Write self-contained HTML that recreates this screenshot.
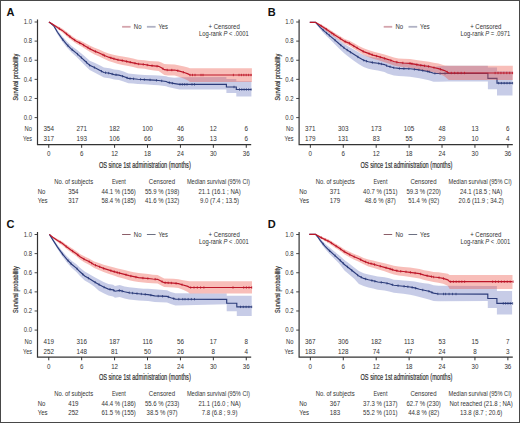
<!DOCTYPE html>
<html><head><meta charset="utf-8"><style>
html,body{margin:0;padding:0;background:#fff;}
svg{display:block;font-family:"Liberation Sans", sans-serif;}
</style></head><body>
<svg width="520" height="423" viewBox="0 0 520 423">
<rect x="0" y="0" width="520" height="423" fill="#fff"/>
<g transform="translate(0 0)"><text x="6.60" y="15.70" font-size="11" text-anchor="start" font-weight="bold" fill="#111">A</text>
<polygon points="48.90,22.10 51.00,22.70 53.70,24.30 57.50,30.30 62.20,36.30 66.90,41.60 71.60,46.00 76.40,49.40 81.10,53.30 85.00,56.60 89.70,60.70 94.50,62.80 99.20,65.10 103.90,67.50 109.50,68.20 114.20,69.60 118.90,70.10 123.60,71.60 128.40,73.60 133.10,74.10 137.80,74.50 144.50,74.90 153.90,75.30 158.60,75.60 166.20,76.30 168.10,77.00 174.70,77.80 179.50,77.20 226.40,77.10 226.40,78.90 236.30,78.90 236.30,81.30 251.40,81.30 251.40,96.40 236.30,96.40 236.30,93.10 226.40,93.10 226.40,89.40 179.50,89.40 174.70,88.50 168.10,87.10 166.20,86.30 158.60,85.30 153.90,84.90 144.50,84.30 137.80,83.90 133.10,83.50 128.40,83.20 123.60,81.40 118.90,80.10 114.20,79.60 109.50,78.20 103.90,77.50 99.20,74.90 94.50,72.40 89.70,69.90 85.00,65.40 81.10,61.50 76.40,56.80 71.60,52.60 66.90,47.60 62.20,41.50 57.50,34.30 53.70,27.10 51.00,24.30 48.90,22.10" fill="rgba(92,106,184,0.34)"/>
<polyline points="48.90,22.10 51.00,23.50 53.70,25.70 57.50,32.30 62.20,38.90 66.90,44.60 71.60,49.30 76.40,53.10 81.10,57.40 85.00,61.00 89.70,65.30 94.50,67.60 99.20,70.00 103.90,72.50 109.50,73.20 114.20,74.60 118.90,75.10 123.60,76.50 128.40,78.40 133.10,78.80 137.80,79.20 144.50,79.60 153.90,80.10 158.60,80.50 166.20,81.50 168.10,82.40 174.70,83.60 179.50,84.40 226.40,84.40 226.40,87.00 236.30,87.00 236.30,89.50 251.40,89.50" fill="none" stroke="#2b3b7a" stroke-width="1.15"/>
<path d="M62.73 38.34v2.4M67.83 44.33v2.4M72.12 48.51v2.4M77.53 52.94v2.4M81.38 56.46v2.4M86.50 61.17v2.4M89.60 64.01v2.4M94.36 66.33v2.4M101.45 70.00v2.4M105.55 71.51v2.4M108.68 71.90v2.4M112.18 72.80v2.4M116.03 73.59v2.4M122.58 75.00v2.4M127.08 76.68v2.4M130.02 77.34v2.4M133.57 77.64v2.4M140.58 78.17v2.4M144.37 78.39v2.4M150.04 78.69v2.4M156.46 79.12v2.4M161.70 79.71v2.4M169.35 81.43v2.4M172.37 81.98v2.4M180.00 83.20v2.4M182.33 83.20v2.4M184.67 83.20v2.4M187.00 83.20v2.4M192.00 83.20v2.4M194.50 83.20v2.4M234.00 85.80v2.4M239.50 88.30v2.4M241.80 88.30v2.4M244.10 88.30v2.4M246.40 88.30v2.4M248.70 88.30v2.4M251.00 88.30v2.4" stroke="#2b3b7a" stroke-width="0.8"/>
<polygon points="48.90,22.10 51.50,23.00 54.50,24.60 57.50,26.10 62.20,28.50 66.90,32.00 71.60,35.70 76.40,38.90 81.10,40.90 85.00,43.00 89.70,45.60 94.50,47.80 99.20,49.60 103.90,51.80 108.60,53.50 113.40,54.70 118.10,55.70 122.80,56.50 128.40,57.60 133.10,58.60 137.80,59.65 144.50,60.25 149.20,61.00 153.90,61.30 158.60,61.50 161.50,62.60 164.30,64.10 168.10,64.30 174.70,64.60 179.50,65.50 184.20,66.60 188.00,67.50 189.90,68.20 251.90,68.20 251.90,82.00 189.90,82.00 188.00,80.50 184.20,78.70 179.50,76.90 174.70,75.60 168.10,75.50 164.30,75.10 161.50,73.00 158.60,71.10 153.90,70.50 149.20,69.80 144.50,68.75 137.80,68.15 133.10,67.00 128.40,66.00 122.80,64.90 118.10,63.90 113.40,62.50 108.60,60.90 103.90,58.80 99.20,56.40 94.50,54.40 89.70,51.80 85.00,48.80 81.10,46.30 76.40,43.70 71.60,40.30 66.90,36.40 62.20,32.30 57.50,29.10 54.50,26.60 51.50,24.20 48.90,22.10" fill="rgba(236,84,70,0.38)"/>
<polyline points="48.90,22.10 51.50,23.60 54.50,25.60 57.50,27.60 62.20,30.40 66.90,34.20 71.60,38.00 76.40,41.30 81.10,43.60 85.00,45.90 89.70,48.70 94.50,51.10 99.20,53.00 103.90,55.30 108.60,57.20 113.40,58.60 118.10,59.80 122.80,60.70 128.40,61.80 133.10,62.80 137.80,63.90 144.50,64.50 149.20,65.40 153.90,65.90 158.60,66.30 161.50,67.80 164.30,69.70 168.10,70.10 174.70,70.00 179.50,71.10 184.20,72.50 188.00,73.90 189.90,75.00 251.90,75.00" fill="none" stroke="#bd1628" stroke-width="1.2"/>
<path d="M59.41 27.54v2.4M66.55 32.72v2.4M69.86 35.39v2.4M74.63 38.88v2.4M79.63 41.68v2.4M83.63 43.89v2.4M87.97 46.47v2.4M90.17 47.73v2.4M95.44 50.28v2.4M103.05 53.68v2.4M104.47 54.33v2.4M110.83 56.65v2.4M113.91 57.53v2.4M118.02 58.58v2.4M122.28 59.40v2.4M126.66 60.26v2.4M130.27 61.00v2.4M134.94 62.03v2.4M138.61 62.77v2.4M143.25 63.19v2.4M147.26 63.83v2.4M152.05 64.50v2.4M157.06 64.97v2.4M162.98 67.61v2.4M167.22 68.81v2.4M171.79 68.84v2.4M177.80 69.51v2.4M183.32 71.04v2.4M190.00 73.80v2.4M192.50 73.80v2.4M195.00 73.80v2.4M201.00 73.80v2.4M203.00 73.80v2.4M233.40 73.80v2.4M239.00 73.80v2.4M241.40 73.80v2.4M243.80 73.80v2.4M246.20 73.80v2.4M248.60 73.80v2.4M251.00 73.80v2.4" stroke="#bd1628" stroke-width="0.8"/>
<path d="M37.5 19.5V144.7H251.2" fill="none" stroke="#333" stroke-width="1.2"/>
<path d="M34.6 22.00H37.5" stroke="#333" stroke-width="0.9"/>
<text x="27.85" y="24.20" font-size="6.63" text-anchor="middle" font-weight="normal" fill="#333" textLength="8.30" lengthAdjust="spacingAndGlyphs">1.0</text>
<path d="M34.6 41.12H37.5" stroke="#333" stroke-width="0.9"/>
<text x="27.85" y="43.32" font-size="6.63" text-anchor="middle" font-weight="normal" fill="#333" textLength="8.30" lengthAdjust="spacingAndGlyphs">0.8</text>
<path d="M34.6 60.24H37.5" stroke="#333" stroke-width="0.9"/>
<text x="27.85" y="62.44" font-size="6.63" text-anchor="middle" font-weight="normal" fill="#333" textLength="8.30" lengthAdjust="spacingAndGlyphs">0.6</text>
<path d="M34.6 79.36H37.5" stroke="#333" stroke-width="0.9"/>
<text x="27.85" y="81.56" font-size="6.63" text-anchor="middle" font-weight="normal" fill="#333" textLength="8.30" lengthAdjust="spacingAndGlyphs">0.4</text>
<path d="M34.6 98.48H37.5" stroke="#333" stroke-width="0.9"/>
<text x="27.85" y="100.68" font-size="6.63" text-anchor="middle" font-weight="normal" fill="#333" textLength="8.30" lengthAdjust="spacingAndGlyphs">0.2</text>
<path d="M34.6 117.60H37.5" stroke="#333" stroke-width="0.9"/>
<text x="27.85" y="119.80" font-size="6.63" text-anchor="middle" font-weight="normal" fill="#333" textLength="8.30" lengthAdjust="spacingAndGlyphs">0.0</text>
<path d="M48.75 144.5V147.8" stroke="#333" stroke-width="1"/>
<text x="48.75" y="156.40" font-size="6.63" text-anchor="middle" font-weight="normal" fill="#333" textLength="3.45" lengthAdjust="spacingAndGlyphs">0</text>
<path d="M81.67 144.5V147.8" stroke="#333" stroke-width="1"/>
<text x="81.67" y="156.40" font-size="6.63" text-anchor="middle" font-weight="normal" fill="#333" textLength="3.45" lengthAdjust="spacingAndGlyphs">6</text>
<path d="M114.59 144.5V147.8" stroke="#333" stroke-width="1"/>
<text x="114.59" y="156.40" font-size="6.63" text-anchor="middle" font-weight="normal" fill="#333" textLength="6.90" lengthAdjust="spacingAndGlyphs">12</text>
<path d="M147.51 144.5V147.8" stroke="#333" stroke-width="1"/>
<text x="147.51" y="156.40" font-size="6.63" text-anchor="middle" font-weight="normal" fill="#333" textLength="6.90" lengthAdjust="spacingAndGlyphs">18</text>
<path d="M180.43 144.5V147.8" stroke="#333" stroke-width="1"/>
<text x="180.43" y="156.40" font-size="6.63" text-anchor="middle" font-weight="normal" fill="#333" textLength="6.90" lengthAdjust="spacingAndGlyphs">24</text>
<path d="M213.35 144.5V147.8" stroke="#333" stroke-width="1"/>
<text x="213.35" y="156.40" font-size="6.63" text-anchor="middle" font-weight="normal" fill="#333" textLength="6.90" lengthAdjust="spacingAndGlyphs">30</text>
<path d="M246.27 144.5V147.8" stroke="#333" stroke-width="1"/>
<text x="246.27" y="156.40" font-size="6.63" text-anchor="middle" font-weight="normal" fill="#333" textLength="6.90" lengthAdjust="spacingAndGlyphs">36</text>
<text x="28.20" y="131.40" font-size="6.63" text-anchor="middle" font-weight="normal" fill="#333" textLength="7.40" lengthAdjust="spacingAndGlyphs">No</text>
<text x="27.45" y="141.00" font-size="6.63" text-anchor="middle" font-weight="normal" fill="#333" textLength="8.90" lengthAdjust="spacingAndGlyphs">Yes</text>
<text x="48.75" y="131.40" font-size="6.74" text-anchor="middle" font-weight="normal" fill="#333" textLength="10.51" lengthAdjust="spacingAndGlyphs">354</text>
<text x="81.67" y="131.40" font-size="6.74" text-anchor="middle" font-weight="normal" fill="#333" textLength="10.51" lengthAdjust="spacingAndGlyphs">271</text>
<text x="114.59" y="131.40" font-size="6.74" text-anchor="middle" font-weight="normal" fill="#333" textLength="10.51" lengthAdjust="spacingAndGlyphs">182</text>
<text x="147.51" y="131.40" font-size="6.74" text-anchor="middle" font-weight="normal" fill="#333" textLength="10.51" lengthAdjust="spacingAndGlyphs">100</text>
<text x="180.43" y="131.40" font-size="6.74" text-anchor="middle" font-weight="normal" fill="#333" textLength="7.01" lengthAdjust="spacingAndGlyphs">46</text>
<text x="213.35" y="131.40" font-size="6.74" text-anchor="middle" font-weight="normal" fill="#333" textLength="7.01" lengthAdjust="spacingAndGlyphs">12</text>
<text x="246.27" y="131.40" font-size="6.74" text-anchor="middle" font-weight="normal" fill="#333" textLength="3.50" lengthAdjust="spacingAndGlyphs">6</text>
<text x="48.75" y="141.00" font-size="6.74" text-anchor="middle" font-weight="normal" fill="#333" textLength="10.51" lengthAdjust="spacingAndGlyphs">317</text>
<text x="81.67" y="141.00" font-size="6.74" text-anchor="middle" font-weight="normal" fill="#333" textLength="10.51" lengthAdjust="spacingAndGlyphs">193</text>
<text x="114.59" y="141.00" font-size="6.74" text-anchor="middle" font-weight="normal" fill="#333" textLength="10.51" lengthAdjust="spacingAndGlyphs">106</text>
<text x="147.51" y="141.00" font-size="6.74" text-anchor="middle" font-weight="normal" fill="#333" textLength="7.01" lengthAdjust="spacingAndGlyphs">66</text>
<text x="180.43" y="141.00" font-size="6.74" text-anchor="middle" font-weight="normal" fill="#333" textLength="7.01" lengthAdjust="spacingAndGlyphs">36</text>
<text x="213.35" y="141.00" font-size="6.74" text-anchor="middle" font-weight="normal" fill="#333" textLength="7.01" lengthAdjust="spacingAndGlyphs">13</text>
<text x="246.27" y="141.00" font-size="6.74" text-anchor="middle" font-weight="normal" fill="#333" textLength="3.50" lengthAdjust="spacingAndGlyphs">6</text>
<text x="144.85" y="167.50" font-size="8.8" text-anchor="middle" font-weight="normal" fill="#333" textLength="91.90" lengthAdjust="spacingAndGlyphs" stroke="#333" stroke-width="0.22">OS since 1st administration (months)</text>
<g transform="translate(18.3 77.1) rotate(-90)"><text x="0.00" y="0.00" font-size="7.8" text-anchor="middle" font-weight="normal" fill="#333" textLength="46.60" lengthAdjust="spacingAndGlyphs" stroke="#333" stroke-width="0.2">Survival probability</text></g>
<g transform="translate(0 0)">
<path d="M122.1 26.8H130.6" stroke="#d4a4ac" stroke-width="1.8"/>
<text x="137.65" y="29.00" font-size="6.74" text-anchor="middle" font-weight="normal" fill="#333" textLength="7.70" lengthAdjust="spacingAndGlyphs">No</text>
<path d="M146.9 26.8H155.6" stroke="#b0b2c4" stroke-width="1.8"/>
<text x="163.25" y="29.00" font-size="6.74" text-anchor="middle" font-weight="normal" fill="#333" textLength="9.50" lengthAdjust="spacingAndGlyphs">Yes</text>
<text x="224.20" y="29.30" font-size="6.74" text-anchor="middle" font-weight="normal" fill="#333" textLength="31.20" lengthAdjust="spacingAndGlyphs">+ Censored</text>
<text x="223.85" y="36.40" font-size="6.74" text-anchor="middle" font-weight="normal" fill="#333" textLength="49.70" lengthAdjust="spacingAndGlyphs">Log-rank <tspan font-style="italic">P</tspan> &lt; .0001</text>
</g>
<text x="73.65" y="183.80" font-size="6.42" text-anchor="middle" font-weight="normal" fill="#333" textLength="38.90" lengthAdjust="spacingAndGlyphs">No. of subjects</text>
<text x="118.85" y="183.80" font-size="6.42" text-anchor="middle" font-weight="normal" fill="#333" textLength="13.90" lengthAdjust="spacingAndGlyphs">Event</text>
<text x="161.90" y="183.80" font-size="6.42" text-anchor="middle" font-weight="normal" fill="#333" textLength="26.20" lengthAdjust="spacingAndGlyphs">Censored</text>
<text x="218.45" y="183.80" font-size="6.42" text-anchor="middle" font-weight="normal" fill="#333" textLength="63.10" lengthAdjust="spacingAndGlyphs">Median survival (95% CI)</text>
<text x="37.70" y="193.50" font-size="6.42" text-anchor="start" font-weight="normal" fill="#333" textLength="7.67" lengthAdjust="spacingAndGlyphs">No</text>
<text x="37.70" y="202.80" font-size="6.42" text-anchor="start" font-weight="normal" fill="#333" textLength="9.79" lengthAdjust="spacingAndGlyphs">Yes</text>
<text x="73.40" y="193.50" font-size="6.63" text-anchor="middle" font-weight="normal" fill="#333" textLength="10.34" lengthAdjust="spacingAndGlyphs">354</text>
<text x="118.70" y="193.50" font-size="6.42" text-anchor="middle" font-weight="normal" fill="#333" textLength="34.35" lengthAdjust="spacingAndGlyphs">44.1 % (156)</text>
<text x="162.10" y="193.50" font-size="6.42" text-anchor="middle" font-weight="normal" fill="#333" textLength="34.35" lengthAdjust="spacingAndGlyphs">55.9 % (198)</text>
<text x="219.60" y="193.50" font-size="6.42" text-anchor="middle" font-weight="normal" fill="#333" textLength="42.35" lengthAdjust="spacingAndGlyphs">21.1 (16.1 ; NA)</text>
<text x="73.40" y="202.80" font-size="6.63" text-anchor="middle" font-weight="normal" fill="#333" textLength="10.34" lengthAdjust="spacingAndGlyphs">317</text>
<text x="118.70" y="202.80" font-size="6.42" text-anchor="middle" font-weight="normal" fill="#333" textLength="34.35" lengthAdjust="spacingAndGlyphs">58.4 % (185)</text>
<text x="162.10" y="202.80" font-size="6.42" text-anchor="middle" font-weight="normal" fill="#333" textLength="34.35" lengthAdjust="spacingAndGlyphs">41.6 % (132)</text>
<text x="219.60" y="202.80" font-size="6.42" text-anchor="middle" font-weight="normal" fill="#333" textLength="39.02" lengthAdjust="spacingAndGlyphs">9.0 (7.4 ; 13.5)</text></g>
<g transform="translate(261.6 0)"><text x="6.10" y="15.70" font-size="11" text-anchor="start" font-weight="bold" fill="#111">B</text>
<polygon points="48.20,22.30 53.90,21.90 58.60,25.50 63.30,29.10 68.00,32.60 72.80,36.20 77.50,40.00 83.10,44.20 87.90,47.10 92.60,49.80 97.30,52.60 102.00,55.00 106.80,56.50 111.50,57.20 116.20,57.70 122.90,59.00 125.70,60.30 132.30,62.00 137.00,62.50 141.80,62.60 148.40,62.70 157.90,63.70 167.30,65.30 172.00,66.90 176.80,66.30 186.20,65.70 226.30,65.70 226.30,67.50 235.40,67.50 235.40,71.20 250.90,71.20 250.90,95.40 235.40,95.40 235.40,89.20 226.30,89.20 226.30,81.40 186.20,81.40 176.80,81.70 172.00,81.80 167.30,80.20 157.90,78.20 148.40,76.70 141.80,76.20 137.00,76.00 132.30,75.40 125.70,73.50 122.90,72.00 116.20,70.40 111.50,69.70 106.80,68.80 102.00,67.00 97.30,64.20 92.60,61.00 87.90,57.60 83.10,53.80 77.50,48.60 72.80,43.80 68.00,39.10 63.30,34.40 58.60,29.30 53.90,22.70 48.20,22.30" fill="rgba(92,106,184,0.34)"/>
<polyline points="48.20,22.30 53.90,22.30 58.60,27.30 63.30,31.60 68.00,35.60 72.80,39.60 77.50,43.80 83.10,48.40 87.90,51.60 92.60,54.60 97.30,57.60 102.00,60.20 106.80,61.80 111.50,62.60 116.20,63.20 122.90,64.60 125.70,66.00 132.30,67.80 137.00,68.40 141.80,68.60 148.40,68.80 157.90,69.90 167.30,71.60 172.00,73.20 176.80,73.50 186.20,73.40 226.30,73.40 226.30,78.30 235.40,78.30 235.40,83.10 250.90,83.10" fill="none" stroke="#2b3b7a" stroke-width="1.15"/>
<path d="M61.58 28.82v2.4M64.95 31.81v2.4M67.75 34.19v2.4M73.44 38.97v2.4M79.14 43.95v2.4M82.37 46.60v2.4M85.61 48.87v2.4M88.81 50.98v2.4M96.25 55.73v2.4M102.17 59.06v2.4M104.87 59.96v2.4M110.78 61.28v2.4M117.18 62.20v2.4M119.79 62.75v2.4M125.05 64.48v2.4M128.42 65.54v2.4M132.22 66.58v2.4M137.81 67.23v2.4M142.30 67.42v2.4M147.27 67.57v2.4M152.81 68.11v2.4M157.33 68.63v2.4M161.08 69.27v2.4M166.06 70.17v2.4M167.70 70.54v2.4M173.32 72.08v2.4M178.49 72.28v2.4M183.42 72.23v2.4M237.00 81.90v2.4M239.80 81.90v2.4M242.60 81.90v2.4M245.40 81.90v2.4M248.20 81.90v2.4M251.00 81.90v2.4" stroke="#2b3b7a" stroke-width="0.8"/>
<polygon points="48.20,22.30 53.90,22.00 58.60,24.00 63.30,26.60 68.00,29.40 72.80,32.70 77.50,35.50 83.10,38.90 87.90,40.70 92.60,43.30 97.30,45.90 102.00,48.30 106.80,49.90 111.50,51.50 116.20,52.70 122.90,54.60 127.60,55.90 132.30,57.50 137.00,58.40 141.80,58.80 148.40,59.10 157.90,60.60 167.30,61.80 172.00,62.70 176.80,63.60 181.50,64.90 183.40,65.40 187.20,65.70 251.20,65.70 251.20,80.00 187.20,80.00 183.40,76.80 181.50,75.50 176.80,73.60 172.00,72.30 167.30,71.20 157.90,69.60 148.40,67.70 141.80,67.20 137.00,66.60 132.30,65.50 127.60,63.70 122.90,62.20 116.20,60.10 111.50,58.70 106.80,56.90 102.00,54.90 97.30,52.10 92.60,49.10 87.90,46.10 83.10,43.90 77.50,40.10 72.80,36.90 68.00,33.40 63.30,30.00 58.60,26.60 53.90,22.60 48.20,22.30" fill="rgba(236,84,70,0.38)"/>
<polyline points="48.20,22.30 53.90,22.30 58.60,25.30 63.30,28.30 68.00,31.40 72.80,34.80 77.50,37.80 83.10,41.40 87.90,43.40 92.60,46.20 97.30,49.00 102.00,51.60 106.80,53.40 111.50,55.10 116.20,56.40 122.90,58.40 127.60,59.80 132.30,61.50 137.00,62.50 141.80,63.00 148.40,63.40 157.90,65.10 167.30,66.50 172.00,67.50 176.80,68.60 181.50,70.10 183.40,70.80 187.20,73.00 251.20,73.00" fill="none" stroke="#bd1628" stroke-width="1.2"/>
<path d="M59.58 24.73v2.4M64.70 28.02v2.4M70.25 31.79v2.4M72.24 33.20v2.4M78.72 37.39v2.4M83.55 40.39v2.4M87.90 42.20v2.4M92.21 44.77v2.4M95.52 46.74v2.4M101.55 50.15v2.4M107.49 52.45v2.4M110.59 53.57v2.4M114.95 54.86v2.4M118.68 55.94v2.4M123.06 57.25v2.4M129.31 59.22v2.4M135.23 60.92v2.4M141.26 61.74v2.4M148.44 62.21v2.4M150.35 62.55v2.4M155.25 63.43v2.4M159.18 64.09v2.4M162.90 64.65v2.4M166.92 65.24v2.4M172.36 66.38v2.4M178.88 68.06v2.4M185.62 70.88v2.4M189.70 71.80v2.4M193.00 71.80v2.4M196.30 71.80v2.4M199.60 71.80v2.4M202.90 71.80v2.4M233.50 71.80v2.4M236.42 71.80v2.4M239.33 71.80v2.4M242.25 71.80v2.4M245.17 71.80v2.4M248.08 71.80v2.4M251.00 71.80v2.4" stroke="#bd1628" stroke-width="0.8"/>
<path d="M37.5 19.5V144.7H251.2" fill="none" stroke="#333" stroke-width="1.2"/>
<path d="M34.6 22.00H37.5" stroke="#333" stroke-width="0.9"/>
<text x="27.85" y="24.20" font-size="6.63" text-anchor="middle" font-weight="normal" fill="#333" textLength="8.30" lengthAdjust="spacingAndGlyphs">1.0</text>
<path d="M34.6 41.12H37.5" stroke="#333" stroke-width="0.9"/>
<text x="27.85" y="43.32" font-size="6.63" text-anchor="middle" font-weight="normal" fill="#333" textLength="8.30" lengthAdjust="spacingAndGlyphs">0.8</text>
<path d="M34.6 60.24H37.5" stroke="#333" stroke-width="0.9"/>
<text x="27.85" y="62.44" font-size="6.63" text-anchor="middle" font-weight="normal" fill="#333" textLength="8.30" lengthAdjust="spacingAndGlyphs">0.6</text>
<path d="M34.6 79.36H37.5" stroke="#333" stroke-width="0.9"/>
<text x="27.85" y="81.56" font-size="6.63" text-anchor="middle" font-weight="normal" fill="#333" textLength="8.30" lengthAdjust="spacingAndGlyphs">0.4</text>
<path d="M34.6 98.48H37.5" stroke="#333" stroke-width="0.9"/>
<text x="27.85" y="100.68" font-size="6.63" text-anchor="middle" font-weight="normal" fill="#333" textLength="8.30" lengthAdjust="spacingAndGlyphs">0.2</text>
<path d="M34.6 117.60H37.5" stroke="#333" stroke-width="0.9"/>
<text x="27.85" y="119.80" font-size="6.63" text-anchor="middle" font-weight="normal" fill="#333" textLength="8.30" lengthAdjust="spacingAndGlyphs">0.0</text>
<path d="M48.75 144.5V147.8" stroke="#333" stroke-width="1"/>
<text x="48.75" y="156.40" font-size="6.63" text-anchor="middle" font-weight="normal" fill="#333" textLength="3.45" lengthAdjust="spacingAndGlyphs">0</text>
<path d="M81.67 144.5V147.8" stroke="#333" stroke-width="1"/>
<text x="81.67" y="156.40" font-size="6.63" text-anchor="middle" font-weight="normal" fill="#333" textLength="3.45" lengthAdjust="spacingAndGlyphs">6</text>
<path d="M114.59 144.5V147.8" stroke="#333" stroke-width="1"/>
<text x="114.59" y="156.40" font-size="6.63" text-anchor="middle" font-weight="normal" fill="#333" textLength="6.90" lengthAdjust="spacingAndGlyphs">12</text>
<path d="M147.51 144.5V147.8" stroke="#333" stroke-width="1"/>
<text x="147.51" y="156.40" font-size="6.63" text-anchor="middle" font-weight="normal" fill="#333" textLength="6.90" lengthAdjust="spacingAndGlyphs">18</text>
<path d="M180.43 144.5V147.8" stroke="#333" stroke-width="1"/>
<text x="180.43" y="156.40" font-size="6.63" text-anchor="middle" font-weight="normal" fill="#333" textLength="6.90" lengthAdjust="spacingAndGlyphs">24</text>
<path d="M213.35 144.5V147.8" stroke="#333" stroke-width="1"/>
<text x="213.35" y="156.40" font-size="6.63" text-anchor="middle" font-weight="normal" fill="#333" textLength="6.90" lengthAdjust="spacingAndGlyphs">30</text>
<path d="M246.27 144.5V147.8" stroke="#333" stroke-width="1"/>
<text x="246.27" y="156.40" font-size="6.63" text-anchor="middle" font-weight="normal" fill="#333" textLength="6.90" lengthAdjust="spacingAndGlyphs">36</text>
<text x="28.20" y="131.40" font-size="6.63" text-anchor="middle" font-weight="normal" fill="#333" textLength="7.40" lengthAdjust="spacingAndGlyphs">No</text>
<text x="27.45" y="141.00" font-size="6.63" text-anchor="middle" font-weight="normal" fill="#333" textLength="8.90" lengthAdjust="spacingAndGlyphs">Yes</text>
<text x="48.75" y="131.40" font-size="6.74" text-anchor="middle" font-weight="normal" fill="#333" textLength="10.51" lengthAdjust="spacingAndGlyphs">371</text>
<text x="81.67" y="131.40" font-size="6.74" text-anchor="middle" font-weight="normal" fill="#333" textLength="10.51" lengthAdjust="spacingAndGlyphs">303</text>
<text x="114.59" y="131.40" font-size="6.74" text-anchor="middle" font-weight="normal" fill="#333" textLength="10.51" lengthAdjust="spacingAndGlyphs">173</text>
<text x="147.51" y="131.40" font-size="6.74" text-anchor="middle" font-weight="normal" fill="#333" textLength="10.51" lengthAdjust="spacingAndGlyphs">105</text>
<text x="180.43" y="131.40" font-size="6.74" text-anchor="middle" font-weight="normal" fill="#333" textLength="7.01" lengthAdjust="spacingAndGlyphs">48</text>
<text x="213.35" y="131.40" font-size="6.74" text-anchor="middle" font-weight="normal" fill="#333" textLength="7.01" lengthAdjust="spacingAndGlyphs">13</text>
<text x="246.27" y="131.40" font-size="6.74" text-anchor="middle" font-weight="normal" fill="#333" textLength="3.50" lengthAdjust="spacingAndGlyphs">6</text>
<text x="48.75" y="141.00" font-size="6.74" text-anchor="middle" font-weight="normal" fill="#333" textLength="10.51" lengthAdjust="spacingAndGlyphs">179</text>
<text x="81.67" y="141.00" font-size="6.74" text-anchor="middle" font-weight="normal" fill="#333" textLength="10.51" lengthAdjust="spacingAndGlyphs">131</text>
<text x="114.59" y="141.00" font-size="6.74" text-anchor="middle" font-weight="normal" fill="#333" textLength="7.01" lengthAdjust="spacingAndGlyphs">83</text>
<text x="147.51" y="141.00" font-size="6.74" text-anchor="middle" font-weight="normal" fill="#333" textLength="7.01" lengthAdjust="spacingAndGlyphs">55</text>
<text x="180.43" y="141.00" font-size="6.74" text-anchor="middle" font-weight="normal" fill="#333" textLength="7.01" lengthAdjust="spacingAndGlyphs">29</text>
<text x="213.35" y="141.00" font-size="6.74" text-anchor="middle" font-weight="normal" fill="#333" textLength="7.01" lengthAdjust="spacingAndGlyphs">10</text>
<text x="246.27" y="141.00" font-size="6.74" text-anchor="middle" font-weight="normal" fill="#333" textLength="3.50" lengthAdjust="spacingAndGlyphs">4</text>
<text x="144.85" y="167.50" font-size="8.8" text-anchor="middle" font-weight="normal" fill="#333" textLength="91.90" lengthAdjust="spacingAndGlyphs" stroke="#333" stroke-width="0.22">OS since 1st administration (months)</text>
<g transform="translate(18.3 77.1) rotate(-90)"><text x="0.00" y="0.00" font-size="7.8" text-anchor="middle" font-weight="normal" fill="#333" textLength="46.60" lengthAdjust="spacingAndGlyphs" stroke="#333" stroke-width="0.2">Survival probability</text></g>
<g transform="translate(0 0)">
<path d="M122.1 26.8H130.6" stroke="#d4a4ac" stroke-width="1.8"/>
<text x="137.65" y="29.00" font-size="6.74" text-anchor="middle" font-weight="normal" fill="#333" textLength="7.70" lengthAdjust="spacingAndGlyphs">No</text>
<path d="M146.9 26.8H155.6" stroke="#b0b2c4" stroke-width="1.8"/>
<text x="163.25" y="29.00" font-size="6.74" text-anchor="middle" font-weight="normal" fill="#333" textLength="9.50" lengthAdjust="spacingAndGlyphs">Yes</text>
<text x="224.20" y="29.30" font-size="6.74" text-anchor="middle" font-weight="normal" fill="#333" textLength="31.20" lengthAdjust="spacingAndGlyphs">+ Censored</text>
<text x="223.85" y="36.40" font-size="6.74" text-anchor="middle" font-weight="normal" fill="#333" textLength="49.70" lengthAdjust="spacingAndGlyphs">Log-rank <tspan font-style="italic">P</tspan> = .0971</text>
</g>
<text x="73.65" y="183.80" font-size="6.42" text-anchor="middle" font-weight="normal" fill="#333" textLength="38.90" lengthAdjust="spacingAndGlyphs">No. of subjects</text>
<text x="118.85" y="183.80" font-size="6.42" text-anchor="middle" font-weight="normal" fill="#333" textLength="13.90" lengthAdjust="spacingAndGlyphs">Event</text>
<text x="161.90" y="183.80" font-size="6.42" text-anchor="middle" font-weight="normal" fill="#333" textLength="26.20" lengthAdjust="spacingAndGlyphs">Censored</text>
<text x="218.45" y="183.80" font-size="6.42" text-anchor="middle" font-weight="normal" fill="#333" textLength="63.10" lengthAdjust="spacingAndGlyphs">Median survival (95% CI)</text>
<text x="37.70" y="193.50" font-size="6.42" text-anchor="start" font-weight="normal" fill="#333" textLength="7.67" lengthAdjust="spacingAndGlyphs">No</text>
<text x="37.70" y="202.80" font-size="6.42" text-anchor="start" font-weight="normal" fill="#333" textLength="9.79" lengthAdjust="spacingAndGlyphs">Yes</text>
<text x="73.40" y="193.50" font-size="6.63" text-anchor="middle" font-weight="normal" fill="#333" textLength="10.34" lengthAdjust="spacingAndGlyphs">371</text>
<text x="118.70" y="193.50" font-size="6.42" text-anchor="middle" font-weight="normal" fill="#333" textLength="34.35" lengthAdjust="spacingAndGlyphs">40.7 % (151)</text>
<text x="162.10" y="193.50" font-size="6.42" text-anchor="middle" font-weight="normal" fill="#333" textLength="34.35" lengthAdjust="spacingAndGlyphs">59.3 % (220)</text>
<text x="219.60" y="193.50" font-size="6.42" text-anchor="middle" font-weight="normal" fill="#333" textLength="42.35" lengthAdjust="spacingAndGlyphs">24.1 (18.5 ; NA)</text>
<text x="73.40" y="202.80" font-size="6.63" text-anchor="middle" font-weight="normal" fill="#333" textLength="10.34" lengthAdjust="spacingAndGlyphs">179</text>
<text x="118.70" y="202.80" font-size="6.42" text-anchor="middle" font-weight="normal" fill="#333" textLength="31.02" lengthAdjust="spacingAndGlyphs">48.6 % (87)</text>
<text x="162.10" y="202.80" font-size="6.42" text-anchor="middle" font-weight="normal" fill="#333" textLength="31.02" lengthAdjust="spacingAndGlyphs">51.4 % (92)</text>
<text x="219.60" y="202.80" font-size="6.42" text-anchor="middle" font-weight="normal" fill="#333" textLength="45.25" lengthAdjust="spacingAndGlyphs">20.6 (11.9 ; 34.2)</text></g>
<g transform="translate(0 212.5)"><text x="6.60" y="15.70" font-size="11" text-anchor="start" font-weight="bold" fill="#111">C</text>
<polygon points="49.40,21.90 52.70,25.90 57.50,32.60 62.20,38.60 66.90,43.80 71.60,48.20 76.40,51.80 80.00,55.20 84.70,59.10 89.50,61.80 94.20,64.50 98.90,67.10 103.60,69.40 108.40,71.50 113.10,72.20 115.00,73.40 119.70,72.60 124.50,73.90 129.20,74.80 133.90,75.30 138.60,75.80 143.40,76.20 148.10,76.30 154.70,76.80 167.00,77.70 170.80,79.40 175.50,80.80 226.70,81.00 226.70,83.20 236.80,83.20 236.80,83.20 251.70,83.20 251.70,103.50 236.80,103.50 236.80,98.70 226.70,98.70 226.70,91.80 175.50,93.10 170.80,91.60 167.00,90.00 154.70,89.40 148.10,88.40 143.40,88.20 138.60,87.90 133.90,87.40 129.20,86.90 124.50,86.00 119.70,84.50 115.00,85.30 113.10,83.90 108.40,83.00 103.60,80.70 98.90,78.20 94.20,73.90 89.50,70.80 84.70,67.90 80.00,63.40 76.40,59.40 71.60,55.20 66.90,50.00 62.20,43.80 57.50,36.60 52.70,28.30 49.40,21.90" fill="rgba(92,106,184,0.34)"/>
<polyline points="49.40,21.90 52.70,27.10 57.50,34.60 62.20,41.20 66.90,46.90 71.60,51.70 76.40,55.60 80.00,59.30 84.70,63.50 89.50,66.30 94.20,69.20 98.90,72.00 103.60,74.40 108.40,76.60 113.10,77.40 115.00,78.70 119.70,77.90 124.50,79.30 129.20,80.20 133.90,80.70 138.60,81.20 143.40,81.70 148.10,82.10 154.70,83.40 167.00,83.90 170.80,85.30 175.50,86.60 226.70,86.80 226.70,90.70 236.80,90.70 236.80,94.40 251.70,94.40" fill="none" stroke="#2b3b7a" stroke-width="1.15"/>
<path d="M62.47 40.33v2.4M68.00 46.83v2.4M70.99 49.88v2.4M77.13 55.15v2.4M82.75 60.55v2.4M88.41 64.46v2.4M95.08 68.53v2.4M99.15 70.93v2.4M104.06 73.41v2.4M109.99 75.67v2.4M113.76 76.65v2.4M119.30 76.77v2.4M122.16 77.42v2.4M129.24 79.00v2.4M132.60 79.36v2.4M136.97 79.83v2.4M141.35 80.29v2.4M145.24 80.66v2.4M150.85 81.44v2.4M158.20 82.34v2.4M162.56 82.52v2.4M168.35 83.20v2.4M173.76 84.92v2.4M178.84 85.41v2.4M182.75 85.43v2.4M185.00 85.44v2.4M188.17 85.45v2.4M191.33 85.46v2.4M194.50 85.47v2.4M240.50 93.20v2.4M243.30 93.20v2.4M246.10 93.20v2.4M248.90 93.20v2.4M251.70 93.20v2.4" stroke="#2b3b7a" stroke-width="0.8"/>
<polygon points="49.40,21.90 52.70,23.80 57.50,26.50 62.20,28.90 66.90,32.40 71.60,35.50 76.40,38.70 80.00,41.50 84.70,44.10 89.50,46.20 94.20,48.90 98.90,50.50 103.60,52.30 108.40,53.60 113.10,54.80 117.80,56.00 124.50,57.40 129.20,58.70 133.90,59.70 138.60,60.60 143.40,61.10 148.10,61.60 152.80,62.30 157.60,62.60 161.30,64.40 164.20,65.90 173.60,66.30 178.40,66.70 183.10,67.70 187.80,68.40 189.70,68.80 252.00,68.80 252.00,81.00 189.70,81.00 187.80,79.40 183.10,77.30 178.40,75.50 173.60,74.90 164.20,74.50 161.30,73.00 157.60,71.00 152.80,70.70 148.10,70.40 143.40,70.10 138.60,69.60 133.90,68.70 129.20,67.70 124.50,66.20 117.80,64.40 113.10,62.80 108.40,61.20 103.60,59.50 98.90,57.50 94.20,55.50 89.50,52.40 84.70,49.90 80.00,46.90 76.40,43.70 71.60,40.30 66.90,36.80 62.20,32.70 57.50,29.50 52.70,25.60 49.40,21.90" fill="rgba(236,84,70,0.38)"/>
<polyline points="49.40,21.90 52.70,24.70 57.50,28.00 62.20,30.80 66.90,34.60 71.60,37.90 76.40,41.20 80.00,44.20 84.70,47.00 89.50,49.30 94.20,52.20 98.90,54.00 103.60,55.90 108.40,57.40 113.10,58.80 117.80,60.20 124.50,61.80 129.20,63.20 133.90,64.20 138.60,65.10 143.40,65.60 148.10,66.00 152.80,66.50 157.60,66.80 161.30,68.70 164.20,70.20 173.60,70.60 178.40,71.10 183.10,72.50 187.80,73.90 189.70,75.00 252.00,75.00" fill="none" stroke="#bd1628" stroke-width="1.2"/>
<path d="M60.20 28.41v2.4M66.18 32.82v2.4M72.60 37.39v2.4M77.90 41.25v2.4M83.95 45.35v2.4M89.21 47.96v2.4M91.68 49.44v2.4M95.50 51.50v2.4M99.67 53.11v2.4M103.68 54.72v2.4M110.87 56.93v2.4M114.26 57.95v2.4M117.24 58.83v2.4M119.47 59.40v2.4M126.03 61.05v2.4M130.84 62.35v2.4M135.96 63.39v2.4M142.95 64.35v2.4M147.86 64.78v2.4M155.15 65.45v2.4M162.09 67.91v2.4M165.15 69.04v2.4M168.18 69.17v2.4M171.39 69.31v2.4M176.06 69.66v2.4M182.04 70.98v2.4M190.70 73.80v2.4M194.00 73.80v2.4M197.30 73.80v2.4M200.60 73.80v2.4M203.90 73.80v2.4M233.00 73.80v2.4M243.70 73.80v2.4M246.37 73.80v2.4M249.03 73.80v2.4M251.70 73.80v2.4" stroke="#bd1628" stroke-width="0.8"/>
<path d="M37.5 19.5V144.7H251.2" fill="none" stroke="#333" stroke-width="1.2"/>
<path d="M34.6 22.00H37.5" stroke="#333" stroke-width="0.9"/>
<text x="27.85" y="24.20" font-size="6.63" text-anchor="middle" font-weight="normal" fill="#333" textLength="8.30" lengthAdjust="spacingAndGlyphs">1.0</text>
<path d="M34.6 41.12H37.5" stroke="#333" stroke-width="0.9"/>
<text x="27.85" y="43.32" font-size="6.63" text-anchor="middle" font-weight="normal" fill="#333" textLength="8.30" lengthAdjust="spacingAndGlyphs">0.8</text>
<path d="M34.6 60.24H37.5" stroke="#333" stroke-width="0.9"/>
<text x="27.85" y="62.44" font-size="6.63" text-anchor="middle" font-weight="normal" fill="#333" textLength="8.30" lengthAdjust="spacingAndGlyphs">0.6</text>
<path d="M34.6 79.36H37.5" stroke="#333" stroke-width="0.9"/>
<text x="27.85" y="81.56" font-size="6.63" text-anchor="middle" font-weight="normal" fill="#333" textLength="8.30" lengthAdjust="spacingAndGlyphs">0.4</text>
<path d="M34.6 98.48H37.5" stroke="#333" stroke-width="0.9"/>
<text x="27.85" y="100.68" font-size="6.63" text-anchor="middle" font-weight="normal" fill="#333" textLength="8.30" lengthAdjust="spacingAndGlyphs">0.2</text>
<path d="M34.6 117.60H37.5" stroke="#333" stroke-width="0.9"/>
<text x="27.85" y="119.80" font-size="6.63" text-anchor="middle" font-weight="normal" fill="#333" textLength="8.30" lengthAdjust="spacingAndGlyphs">0.0</text>
<path d="M48.75 144.5V147.8" stroke="#333" stroke-width="1"/>
<text x="48.75" y="156.40" font-size="6.63" text-anchor="middle" font-weight="normal" fill="#333" textLength="3.45" lengthAdjust="spacingAndGlyphs">0</text>
<path d="M81.67 144.5V147.8" stroke="#333" stroke-width="1"/>
<text x="81.67" y="156.40" font-size="6.63" text-anchor="middle" font-weight="normal" fill="#333" textLength="3.45" lengthAdjust="spacingAndGlyphs">6</text>
<path d="M114.59 144.5V147.8" stroke="#333" stroke-width="1"/>
<text x="114.59" y="156.40" font-size="6.63" text-anchor="middle" font-weight="normal" fill="#333" textLength="6.90" lengthAdjust="spacingAndGlyphs">12</text>
<path d="M147.51 144.5V147.8" stroke="#333" stroke-width="1"/>
<text x="147.51" y="156.40" font-size="6.63" text-anchor="middle" font-weight="normal" fill="#333" textLength="6.90" lengthAdjust="spacingAndGlyphs">18</text>
<path d="M180.43 144.5V147.8" stroke="#333" stroke-width="1"/>
<text x="180.43" y="156.40" font-size="6.63" text-anchor="middle" font-weight="normal" fill="#333" textLength="6.90" lengthAdjust="spacingAndGlyphs">24</text>
<path d="M213.35 144.5V147.8" stroke="#333" stroke-width="1"/>
<text x="213.35" y="156.40" font-size="6.63" text-anchor="middle" font-weight="normal" fill="#333" textLength="6.90" lengthAdjust="spacingAndGlyphs">30</text>
<path d="M246.27 144.5V147.8" stroke="#333" stroke-width="1"/>
<text x="246.27" y="156.40" font-size="6.63" text-anchor="middle" font-weight="normal" fill="#333" textLength="6.90" lengthAdjust="spacingAndGlyphs">36</text>
<text x="28.20" y="131.40" font-size="6.63" text-anchor="middle" font-weight="normal" fill="#333" textLength="7.40" lengthAdjust="spacingAndGlyphs">No</text>
<text x="27.45" y="141.00" font-size="6.63" text-anchor="middle" font-weight="normal" fill="#333" textLength="8.90" lengthAdjust="spacingAndGlyphs">Yes</text>
<text x="48.75" y="131.40" font-size="6.74" text-anchor="middle" font-weight="normal" fill="#333" textLength="10.51" lengthAdjust="spacingAndGlyphs">419</text>
<text x="81.67" y="131.40" font-size="6.74" text-anchor="middle" font-weight="normal" fill="#333" textLength="10.51" lengthAdjust="spacingAndGlyphs">316</text>
<text x="114.59" y="131.40" font-size="6.74" text-anchor="middle" font-weight="normal" fill="#333" textLength="10.51" lengthAdjust="spacingAndGlyphs">187</text>
<text x="147.51" y="131.40" font-size="6.74" text-anchor="middle" font-weight="normal" fill="#333" textLength="10.04" lengthAdjust="spacingAndGlyphs">116</text>
<text x="180.43" y="131.40" font-size="6.74" text-anchor="middle" font-weight="normal" fill="#333" textLength="7.01" lengthAdjust="spacingAndGlyphs">56</text>
<text x="213.35" y="131.40" font-size="6.74" text-anchor="middle" font-weight="normal" fill="#333" textLength="7.01" lengthAdjust="spacingAndGlyphs">17</text>
<text x="246.27" y="131.40" font-size="6.74" text-anchor="middle" font-weight="normal" fill="#333" textLength="3.50" lengthAdjust="spacingAndGlyphs">8</text>
<text x="48.75" y="141.00" font-size="6.74" text-anchor="middle" font-weight="normal" fill="#333" textLength="10.51" lengthAdjust="spacingAndGlyphs">252</text>
<text x="81.67" y="141.00" font-size="6.74" text-anchor="middle" font-weight="normal" fill="#333" textLength="10.51" lengthAdjust="spacingAndGlyphs">148</text>
<text x="114.59" y="141.00" font-size="6.74" text-anchor="middle" font-weight="normal" fill="#333" textLength="7.01" lengthAdjust="spacingAndGlyphs">81</text>
<text x="147.51" y="141.00" font-size="6.74" text-anchor="middle" font-weight="normal" fill="#333" textLength="7.01" lengthAdjust="spacingAndGlyphs">50</text>
<text x="180.43" y="141.00" font-size="6.74" text-anchor="middle" font-weight="normal" fill="#333" textLength="7.01" lengthAdjust="spacingAndGlyphs">26</text>
<text x="213.35" y="141.00" font-size="6.74" text-anchor="middle" font-weight="normal" fill="#333" textLength="3.50" lengthAdjust="spacingAndGlyphs">8</text>
<text x="246.27" y="141.00" font-size="6.74" text-anchor="middle" font-weight="normal" fill="#333" textLength="3.50" lengthAdjust="spacingAndGlyphs">4</text>
<text x="144.85" y="167.50" font-size="8.8" text-anchor="middle" font-weight="normal" fill="#333" textLength="91.90" lengthAdjust="spacingAndGlyphs" stroke="#333" stroke-width="0.22">OS since 1st administration (months)</text>
<g transform="translate(18.3 77.1) rotate(-90)"><text x="0.00" y="0.00" font-size="7.8" text-anchor="middle" font-weight="normal" fill="#333" textLength="46.60" lengthAdjust="spacingAndGlyphs" stroke="#333" stroke-width="0.2">Survival probability</text></g>
<g transform="translate(0 -5)">
<path d="M122.1 27.0H130.6" stroke="#8c5e68" stroke-width="1.0"/>
<text x="137.65" y="29.00" font-size="6.74" text-anchor="middle" font-weight="normal" fill="#333" textLength="7.70" lengthAdjust="spacingAndGlyphs">No</text>
<path d="M146.9 27.0H155.6" stroke="#6c7082" stroke-width="1.0"/>
<text x="163.25" y="29.00" font-size="6.74" text-anchor="middle" font-weight="normal" fill="#333" textLength="9.50" lengthAdjust="spacingAndGlyphs">Yes</text>
<text x="224.20" y="29.30" font-size="6.74" text-anchor="middle" font-weight="normal" fill="#333" textLength="31.20" lengthAdjust="spacingAndGlyphs">+ Censored</text>
<text x="223.85" y="36.40" font-size="6.74" text-anchor="middle" font-weight="normal" fill="#333" textLength="49.70" lengthAdjust="spacingAndGlyphs">Log-rank <tspan font-style="italic">P</tspan> &lt; .0001</text>
</g>
<text x="73.65" y="183.80" font-size="6.42" text-anchor="middle" font-weight="normal" fill="#333" textLength="38.90" lengthAdjust="spacingAndGlyphs">No. of subjects</text>
<text x="118.85" y="183.80" font-size="6.42" text-anchor="middle" font-weight="normal" fill="#333" textLength="13.90" lengthAdjust="spacingAndGlyphs">Event</text>
<text x="161.90" y="183.80" font-size="6.42" text-anchor="middle" font-weight="normal" fill="#333" textLength="26.20" lengthAdjust="spacingAndGlyphs">Censored</text>
<text x="218.45" y="183.80" font-size="6.42" text-anchor="middle" font-weight="normal" fill="#333" textLength="63.10" lengthAdjust="spacingAndGlyphs">Median survival (95% CI)</text>
<text x="37.70" y="193.50" font-size="6.42" text-anchor="start" font-weight="normal" fill="#333" textLength="7.67" lengthAdjust="spacingAndGlyphs">No</text>
<text x="37.70" y="202.80" font-size="6.42" text-anchor="start" font-weight="normal" fill="#333" textLength="9.79" lengthAdjust="spacingAndGlyphs">Yes</text>
<text x="73.40" y="193.50" font-size="6.63" text-anchor="middle" font-weight="normal" fill="#333" textLength="10.34" lengthAdjust="spacingAndGlyphs">419</text>
<text x="118.70" y="193.50" font-size="6.42" text-anchor="middle" font-weight="normal" fill="#333" textLength="34.35" lengthAdjust="spacingAndGlyphs">44.4 % (186)</text>
<text x="162.10" y="193.50" font-size="6.42" text-anchor="middle" font-weight="normal" fill="#333" textLength="34.35" lengthAdjust="spacingAndGlyphs">55.6 % (233)</text>
<text x="219.60" y="193.50" font-size="6.42" text-anchor="middle" font-weight="normal" fill="#333" textLength="42.35" lengthAdjust="spacingAndGlyphs">21.1 (16.0 ; NA)</text>
<text x="73.40" y="202.80" font-size="6.63" text-anchor="middle" font-weight="normal" fill="#333" textLength="10.34" lengthAdjust="spacingAndGlyphs">252</text>
<text x="118.70" y="202.80" font-size="6.42" text-anchor="middle" font-weight="normal" fill="#333" textLength="34.35" lengthAdjust="spacingAndGlyphs">61.5 % (155)</text>
<text x="162.10" y="202.80" font-size="6.42" text-anchor="middle" font-weight="normal" fill="#333" textLength="31.02" lengthAdjust="spacingAndGlyphs">38.5 % (97)</text>
<text x="219.60" y="202.80" font-size="6.42" text-anchor="middle" font-weight="normal" fill="#333" textLength="35.69" lengthAdjust="spacingAndGlyphs">7.8 (6.8 ; 9.9)</text></g>
<g transform="translate(261.6 212.5)"><text x="6.10" y="15.70" font-size="11" text-anchor="start" font-weight="bold" fill="#111">D</text>
<polygon points="47.70,21.80 53.90,21.50 56.70,23.90 58.60,26.10 63.30,31.00 68.00,35.10 72.80,38.90 77.50,42.70 83.10,47.70 87.90,51.30 92.60,54.90 97.30,58.50 102.00,60.70 106.80,62.00 111.50,62.90 116.20,64.10 122.90,64.80 127.60,65.80 132.30,67.20 137.00,67.50 141.80,67.90 148.40,68.50 153.10,69.10 157.90,70.10 162.60,70.80 167.30,71.30 172.00,72.80 176.80,73.30 226.20,73.40 226.20,73.60 235.30,73.60 235.30,78.50 250.50,78.50 250.50,101.90 235.30,101.90 235.30,95.40 226.20,95.40 226.20,88.60 176.80,88.80 172.00,88.60 167.30,86.90 162.60,85.80 157.90,84.60 153.10,83.20 148.40,82.30 141.80,81.30 137.00,80.70 132.30,80.30 127.60,78.90 122.90,78.00 116.20,77.30 111.50,76.10 106.80,75.00 102.00,73.50 97.30,71.50 92.60,66.30 87.90,62.30 83.10,58.30 77.50,50.90 72.80,46.30 68.00,41.50 63.30,36.20 58.60,29.70 56.70,26.30 53.90,22.10 47.70,21.80" fill="rgba(92,106,184,0.34)"/>
<polyline points="47.70,21.80 53.90,21.80 56.70,25.10 58.60,27.90 63.30,33.60 68.00,38.30 72.80,42.60 77.50,46.80 83.10,52.20 87.90,56.00 92.60,59.80 97.30,63.60 102.00,65.90 106.80,67.30 111.50,68.30 116.20,69.50 122.90,70.20 127.60,71.30 132.30,72.80 137.00,73.20 141.80,73.70 148.40,74.50 153.10,75.40 157.90,76.80 162.60,77.80 167.30,78.70 172.00,80.60 176.80,81.50 226.20,81.60 226.20,86.00 235.30,86.00 235.30,90.90 250.50,90.90" fill="none" stroke="#2b3b7a" stroke-width="1.15"/>
<path d="M61.56 30.29v2.4M68.00 37.10v2.4M73.49 42.01v2.4M78.65 46.71v2.4M81.63 49.58v2.4M85.89 53.21v2.4M90.17 56.64v2.4M96.07 61.41v2.4M99.61 63.53v2.4M104.01 65.29v2.4M110.32 66.85v2.4M113.29 67.56v2.4M119.69 68.66v2.4M125.40 69.59v2.4M130.72 71.10v2.4M136.47 71.96v2.4M142.45 72.58v2.4M146.29 73.04v2.4M150.54 73.71v2.4M154.01 74.47v2.4M161.16 76.29v2.4M167.30 77.50v2.4M170.31 78.72v2.4M176.22 80.19v2.4M181.95 80.31v2.4M184.00 80.31v2.4M187.47 80.32v2.4M190.93 80.33v2.4M194.40 80.34v2.4M241.70 89.70v2.4M244.02 89.70v2.4M246.35 89.70v2.4M248.68 89.70v2.4M251.00 89.70v2.4" stroke="#2b3b7a" stroke-width="0.8"/>
<polygon points="47.70,21.80 53.90,21.50 58.60,23.40 63.30,25.40 68.00,27.40 72.80,30.50 77.50,33.20 83.10,36.90 87.90,39.30 92.60,41.40 97.30,43.20 102.00,45.40 106.80,47.10 111.50,48.00 116.20,49.20 122.90,50.80 127.60,52.00 132.30,53.20 137.00,54.10 141.80,54.40 148.40,55.10 157.90,56.40 162.60,57.70 167.30,58.60 172.00,59.40 176.80,59.80 181.50,60.50 186.20,61.30 188.10,62.60 250.90,62.60 250.90,76.40 188.10,76.40 186.20,73.30 181.50,71.30 176.80,70.20 172.00,69.60 167.30,68.60 162.60,67.50 157.90,66.00 148.40,64.50 141.80,63.60 137.00,63.10 132.30,62.00 127.60,60.40 122.90,58.80 116.20,56.80 111.50,55.20 106.80,53.90 102.00,51.80 97.30,49.20 92.60,47.20 87.90,44.70 83.10,41.90 77.50,37.80 72.80,34.70 68.00,31.20 63.30,28.60 58.60,25.80 53.90,22.10 47.70,21.80" fill="rgba(236,84,70,0.38)"/>
<polyline points="47.70,21.80 53.90,21.80 58.60,24.60 63.30,27.00 68.00,29.30 72.80,32.60 77.50,35.50 83.10,39.40 87.90,42.00 92.60,44.30 97.30,46.20 102.00,48.60 106.80,50.50 111.50,51.60 116.20,53.00 122.90,54.80 127.60,56.20 132.30,57.60 137.00,58.60 141.80,59.00 148.40,59.80 157.90,61.20 162.60,62.60 167.30,63.60 172.00,64.50 176.80,65.00 181.50,65.90 186.20,67.30 188.10,69.20 250.90,69.20" fill="none" stroke="#bd1628" stroke-width="1.2"/>
<path d="M59.72 23.97v2.4M63.55 25.92v2.4M66.36 27.30v2.4M69.78 29.32v2.4M74.50 32.45v2.4M79.01 35.35v2.4M82.64 37.88v2.4M88.21 40.95v2.4M92.62 43.11v2.4M99.08 45.91v2.4M104.02 48.20v2.4M106.72 49.27v2.4M109.45 49.92v2.4M112.89 50.82v2.4M118.69 52.47v2.4M124.48 54.07v2.4M128.55 55.28v2.4M130.72 55.93v2.4M135.25 57.03v2.4M139.09 57.57v2.4M144.39 58.11v2.4M148.85 58.67v2.4M153.50 59.35v2.4M158.97 60.32v2.4M165.54 62.03v2.4M169.81 62.88v2.4M172.09 63.31v2.4M177.43 63.92v2.4M181.93 64.83v2.4M189.00 68.00v2.4M191.80 68.00v2.4M194.60 68.00v2.4M197.40 68.00v2.4M200.20 68.00v2.4M203.00 68.00v2.4M231.00 68.00v2.4M233.93 68.00v2.4M236.86 68.00v2.4M239.79 68.00v2.4M242.71 68.00v2.4M245.64 68.00v2.4M248.57 68.00v2.4M251.50 68.00v2.4" stroke="#bd1628" stroke-width="0.8"/>
<path d="M37.5 19.5V144.7H251.2" fill="none" stroke="#333" stroke-width="1.2"/>
<path d="M34.6 22.00H37.5" stroke="#333" stroke-width="0.9"/>
<text x="27.85" y="24.20" font-size="6.63" text-anchor="middle" font-weight="normal" fill="#333" textLength="8.30" lengthAdjust="spacingAndGlyphs">1.0</text>
<path d="M34.6 41.12H37.5" stroke="#333" stroke-width="0.9"/>
<text x="27.85" y="43.32" font-size="6.63" text-anchor="middle" font-weight="normal" fill="#333" textLength="8.30" lengthAdjust="spacingAndGlyphs">0.8</text>
<path d="M34.6 60.24H37.5" stroke="#333" stroke-width="0.9"/>
<text x="27.85" y="62.44" font-size="6.63" text-anchor="middle" font-weight="normal" fill="#333" textLength="8.30" lengthAdjust="spacingAndGlyphs">0.6</text>
<path d="M34.6 79.36H37.5" stroke="#333" stroke-width="0.9"/>
<text x="27.85" y="81.56" font-size="6.63" text-anchor="middle" font-weight="normal" fill="#333" textLength="8.30" lengthAdjust="spacingAndGlyphs">0.4</text>
<path d="M34.6 98.48H37.5" stroke="#333" stroke-width="0.9"/>
<text x="27.85" y="100.68" font-size="6.63" text-anchor="middle" font-weight="normal" fill="#333" textLength="8.30" lengthAdjust="spacingAndGlyphs">0.2</text>
<path d="M34.6 117.60H37.5" stroke="#333" stroke-width="0.9"/>
<text x="27.85" y="119.80" font-size="6.63" text-anchor="middle" font-weight="normal" fill="#333" textLength="8.30" lengthAdjust="spacingAndGlyphs">0.0</text>
<path d="M48.75 144.5V147.8" stroke="#333" stroke-width="1"/>
<text x="48.75" y="156.40" font-size="6.63" text-anchor="middle" font-weight="normal" fill="#333" textLength="3.45" lengthAdjust="spacingAndGlyphs">0</text>
<path d="M81.67 144.5V147.8" stroke="#333" stroke-width="1"/>
<text x="81.67" y="156.40" font-size="6.63" text-anchor="middle" font-weight="normal" fill="#333" textLength="3.45" lengthAdjust="spacingAndGlyphs">6</text>
<path d="M114.59 144.5V147.8" stroke="#333" stroke-width="1"/>
<text x="114.59" y="156.40" font-size="6.63" text-anchor="middle" font-weight="normal" fill="#333" textLength="6.90" lengthAdjust="spacingAndGlyphs">12</text>
<path d="M147.51 144.5V147.8" stroke="#333" stroke-width="1"/>
<text x="147.51" y="156.40" font-size="6.63" text-anchor="middle" font-weight="normal" fill="#333" textLength="6.90" lengthAdjust="spacingAndGlyphs">18</text>
<path d="M180.43 144.5V147.8" stroke="#333" stroke-width="1"/>
<text x="180.43" y="156.40" font-size="6.63" text-anchor="middle" font-weight="normal" fill="#333" textLength="6.90" lengthAdjust="spacingAndGlyphs">24</text>
<path d="M213.35 144.5V147.8" stroke="#333" stroke-width="1"/>
<text x="213.35" y="156.40" font-size="6.63" text-anchor="middle" font-weight="normal" fill="#333" textLength="6.90" lengthAdjust="spacingAndGlyphs">30</text>
<path d="M246.27 144.5V147.8" stroke="#333" stroke-width="1"/>
<text x="246.27" y="156.40" font-size="6.63" text-anchor="middle" font-weight="normal" fill="#333" textLength="6.90" lengthAdjust="spacingAndGlyphs">36</text>
<text x="28.20" y="131.40" font-size="6.63" text-anchor="middle" font-weight="normal" fill="#333" textLength="7.40" lengthAdjust="spacingAndGlyphs">No</text>
<text x="27.45" y="141.00" font-size="6.63" text-anchor="middle" font-weight="normal" fill="#333" textLength="8.90" lengthAdjust="spacingAndGlyphs">Yes</text>
<text x="48.75" y="131.40" font-size="6.74" text-anchor="middle" font-weight="normal" fill="#333" textLength="10.51" lengthAdjust="spacingAndGlyphs">367</text>
<text x="81.67" y="131.40" font-size="6.74" text-anchor="middle" font-weight="normal" fill="#333" textLength="10.51" lengthAdjust="spacingAndGlyphs">306</text>
<text x="114.59" y="131.40" font-size="6.74" text-anchor="middle" font-weight="normal" fill="#333" textLength="10.51" lengthAdjust="spacingAndGlyphs">182</text>
<text x="147.51" y="131.40" font-size="6.74" text-anchor="middle" font-weight="normal" fill="#333" textLength="10.04" lengthAdjust="spacingAndGlyphs">113</text>
<text x="180.43" y="131.40" font-size="6.74" text-anchor="middle" font-weight="normal" fill="#333" textLength="7.01" lengthAdjust="spacingAndGlyphs">53</text>
<text x="213.35" y="131.40" font-size="6.74" text-anchor="middle" font-weight="normal" fill="#333" textLength="7.01" lengthAdjust="spacingAndGlyphs">15</text>
<text x="246.27" y="131.40" font-size="6.74" text-anchor="middle" font-weight="normal" fill="#333" textLength="3.50" lengthAdjust="spacingAndGlyphs">7</text>
<text x="48.75" y="141.00" font-size="6.74" text-anchor="middle" font-weight="normal" fill="#333" textLength="10.51" lengthAdjust="spacingAndGlyphs">183</text>
<text x="81.67" y="141.00" font-size="6.74" text-anchor="middle" font-weight="normal" fill="#333" textLength="10.51" lengthAdjust="spacingAndGlyphs">128</text>
<text x="114.59" y="141.00" font-size="6.74" text-anchor="middle" font-weight="normal" fill="#333" textLength="7.01" lengthAdjust="spacingAndGlyphs">74</text>
<text x="147.51" y="141.00" font-size="6.74" text-anchor="middle" font-weight="normal" fill="#333" textLength="7.01" lengthAdjust="spacingAndGlyphs">47</text>
<text x="180.43" y="141.00" font-size="6.74" text-anchor="middle" font-weight="normal" fill="#333" textLength="7.01" lengthAdjust="spacingAndGlyphs">24</text>
<text x="213.35" y="141.00" font-size="6.74" text-anchor="middle" font-weight="normal" fill="#333" textLength="3.50" lengthAdjust="spacingAndGlyphs">8</text>
<text x="246.27" y="141.00" font-size="6.74" text-anchor="middle" font-weight="normal" fill="#333" textLength="3.50" lengthAdjust="spacingAndGlyphs">3</text>
<text x="144.85" y="167.50" font-size="8.8" text-anchor="middle" font-weight="normal" fill="#333" textLength="91.90" lengthAdjust="spacingAndGlyphs" stroke="#333" stroke-width="0.22">OS since 1st administration (months)</text>
<g transform="translate(18.3 77.1) rotate(-90)"><text x="0.00" y="0.00" font-size="7.8" text-anchor="middle" font-weight="normal" fill="#333" textLength="46.60" lengthAdjust="spacingAndGlyphs" stroke="#333" stroke-width="0.2">Survival probability</text></g>
<g transform="translate(0 -5)">
<path d="M122.1 27.0H130.6" stroke="#8c5e68" stroke-width="1.0"/>
<text x="137.65" y="29.00" font-size="6.74" text-anchor="middle" font-weight="normal" fill="#333" textLength="7.70" lengthAdjust="spacingAndGlyphs">No</text>
<path d="M146.9 27.0H155.6" stroke="#6c7082" stroke-width="1.0"/>
<text x="163.25" y="29.00" font-size="6.74" text-anchor="middle" font-weight="normal" fill="#333" textLength="9.50" lengthAdjust="spacingAndGlyphs">Yes</text>
<text x="224.20" y="29.30" font-size="6.74" text-anchor="middle" font-weight="normal" fill="#333" textLength="31.20" lengthAdjust="spacingAndGlyphs">+ Censored</text>
<text x="223.85" y="36.40" font-size="6.74" text-anchor="middle" font-weight="normal" fill="#333" textLength="49.70" lengthAdjust="spacingAndGlyphs">Log-rank <tspan font-style="italic">P</tspan> &lt; .0001</text>
</g>
<text x="73.65" y="183.80" font-size="6.42" text-anchor="middle" font-weight="normal" fill="#333" textLength="38.90" lengthAdjust="spacingAndGlyphs">No. of subjects</text>
<text x="118.85" y="183.80" font-size="6.42" text-anchor="middle" font-weight="normal" fill="#333" textLength="13.90" lengthAdjust="spacingAndGlyphs">Event</text>
<text x="161.90" y="183.80" font-size="6.42" text-anchor="middle" font-weight="normal" fill="#333" textLength="26.20" lengthAdjust="spacingAndGlyphs">Censored</text>
<text x="218.45" y="183.80" font-size="6.42" text-anchor="middle" font-weight="normal" fill="#333" textLength="63.10" lengthAdjust="spacingAndGlyphs">Median survival (95% CI)</text>
<text x="37.70" y="193.50" font-size="6.42" text-anchor="start" font-weight="normal" fill="#333" textLength="7.67" lengthAdjust="spacingAndGlyphs">No</text>
<text x="37.70" y="202.80" font-size="6.42" text-anchor="start" font-weight="normal" fill="#333" textLength="9.79" lengthAdjust="spacingAndGlyphs">Yes</text>
<text x="73.40" y="193.50" font-size="6.63" text-anchor="middle" font-weight="normal" fill="#333" textLength="10.34" lengthAdjust="spacingAndGlyphs">367</text>
<text x="118.70" y="193.50" font-size="6.42" text-anchor="middle" font-weight="normal" fill="#333" textLength="34.35" lengthAdjust="spacingAndGlyphs">37.3 % (137)</text>
<text x="162.10" y="193.50" font-size="6.42" text-anchor="middle" font-weight="normal" fill="#333" textLength="34.35" lengthAdjust="spacingAndGlyphs">62.7 % (230)</text>
<text x="219.60" y="193.50" font-size="6.42" text-anchor="middle" font-weight="normal" fill="#333" textLength="63.36" lengthAdjust="spacingAndGlyphs">Not reached (21.8 ; NA)</text>
<text x="73.40" y="202.80" font-size="6.63" text-anchor="middle" font-weight="normal" fill="#333" textLength="10.34" lengthAdjust="spacingAndGlyphs">183</text>
<text x="118.70" y="202.80" font-size="6.42" text-anchor="middle" font-weight="normal" fill="#333" textLength="34.35" lengthAdjust="spacingAndGlyphs">55.2 % (101)</text>
<text x="162.10" y="202.80" font-size="6.42" text-anchor="middle" font-weight="normal" fill="#333" textLength="31.02" lengthAdjust="spacingAndGlyphs">44.8 % (82)</text>
<text x="219.60" y="202.80" font-size="6.42" text-anchor="middle" font-weight="normal" fill="#333" textLength="42.36" lengthAdjust="spacingAndGlyphs">13.8 (8.7 ; 20.6)</text></g>
<rect x="0.5" y="0.5" width="519" height="422" fill="none" stroke="#484848" stroke-width="1"/>
</svg>
</body></html>
